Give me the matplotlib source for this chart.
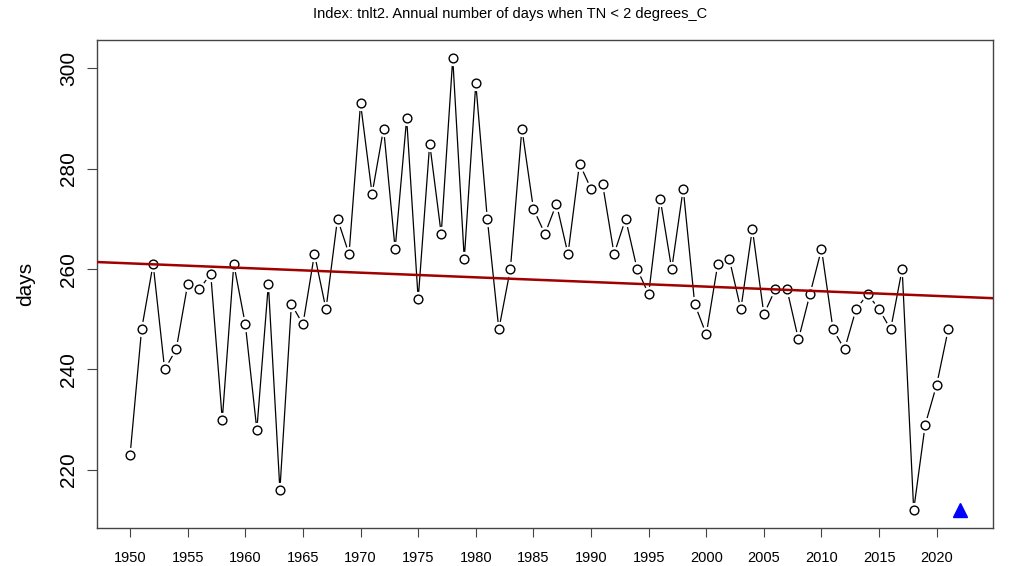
import matplotlib
matplotlib.use("Agg")
import matplotlib.pyplot as plt
import numpy as np

plt.rcParams['font.family'] = ['Liberation Sans', 'DejaVu Sans']

years = list(range(1950, 2022))
days = [223, 248, 261, 240, 244, 257, 256, 259, 230, 261,
        249, 228, 257, 216, 253, 249, 263, 252, 270, 263,
        293, 275, 288, 264, 290, 254, 285, 267, 302, 262,
        297, 270, 248, 260, 288, 272, 267, 273, 263, 281,
        276, 277, 263, 270, 260, 255, 274, 260, 276, 253,
        247, 261, 262, 252, 268, 251, 256, 256, 246, 255,
        264, 248, 244, 252, 255, 252, 248, 260, 212, 229,
        237, 248]
trend_x = [1947.12, 2024.88]
trend_y = [261.4, 254.2]
marker_year = [2022]
marker_val = [212]
xticks = list(range(1950, 2021, 5))
yticks = [220, 240, 260, 280, 300]
title = "Index: tnlt2. Annual number of days when TN < 2 degrees_C"

fig = plt.figure(figsize=(10.2, 5.66), dpi=100)
ax = fig.add_axes([0.095, 0.067, 0.8785, 0.862])

ax.plot(years, days, color='black', lw=0.9, zorder=2)
ax.plot(years, days, ls='none', marker='o', ms=10, mfc='white', mec='white', zorder=3)
ax.plot(years, days, ls='none', marker='o', ms=6.3, mfc='white', mec='black', mew=1.0, zorder=4)
ax.plot(trend_x, trend_y, color='#a00000', lw=1.8, zorder=5)
ax.plot(marker_year, marker_val, ls='none', marker='^', ms=10, color='#0000ff', zorder=6)

ax.set_xlim(1947.12, 2024.88)
ax.set_ylim(208.4, 305.6)
ax.set_xticks(xticks)
ax.set_yticks(yticks)
ax.set_yticklabels([str(v) for v in yticks], rotation=90, va='center', fontsize=15)
ax.tick_params(axis='x', labelsize=10.5, length=6.5, pad=10, color='#444444')
ax.tick_params(axis='y', length=7, pad=6.5, color='#444444')
ax.set_ylabel('days', fontsize=15, labelpad=17)
for s in ax.spines.values():
    s.set_color('#444444')
    s.set_linewidth(1.0)

fig.text(0.5, 0.975, title, ha='center', va='center', fontsize=10.5)

fig.savefig('out.png', dpi=100)
